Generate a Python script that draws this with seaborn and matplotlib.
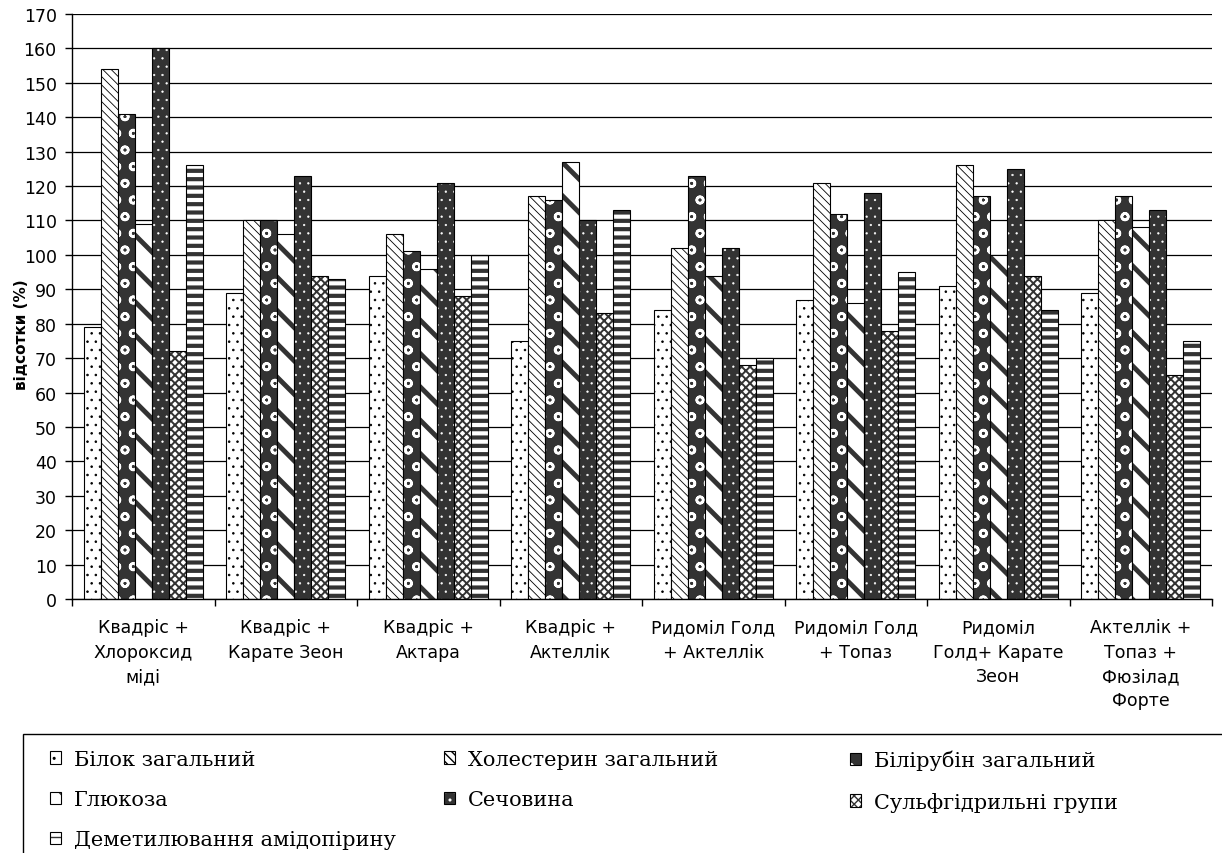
import numpy as np
import pandas as pd
import matplotlib
matplotlib.use("Agg")
import matplotlib.pyplot as plt
import seaborn as sns
from matplotlib.patches import Patch, Rectangle
from matplotlib.colors import to_rgba

# ---------------- data ----------------
groups = [
    "Квадріс +\nХлороксид\nміді",
    "Квадріс +\nКарате Зеон",
    "Квадріс +\nАктара",
    "Квадріс +\nАктеллік",
    "Ридоміл Голд\n+ Актеллік",
    "Ридоміл Голд\n+ Топаз",
    "Ридоміл\nГолд+ Карате\nЗеон",
    "Актеллік +\nТопаз +\nФюзілад\nФорте",
]
series = [
    "Білок загальний",
    "Холестерин загальний",
    "Білірубін загальний",
    "Глюкоза",
    "Сечовина",
    "Сульфгідрильні групи",
    "Деметилювання амідопірину",
]
bilok = [79, 89, 94, 75, 84, 87, 91, 89]
kholesteryn = [154, 110, 106, 117, 102, 121, 126, 110]
bilirubin = [141, 110, 101, 116, 123, 112, 117, 117]
hlukoza = [109, 106, 96, 127, 94, 86, 100, 108]
sechovyna = [160, 123, 121, 110, 102, 118, 125, 113]
sulfhidryl = [72, 94, 88, 83, 68, 78, 94, 65]
demetyl = [126, 93, 100, 113, 70, 95, 84, 75]
y_label = "відсотки (%)"
y_ticks = list(range(0, 171, 10))

values = [bilok, kholesteryn, bilirubin, hlukoza, sechovyna, sulfhidryl, demetyl]
rows = []
for s, vals in zip(series, values):
    for g, v in zip(groups, vals):
        rows.append({"group": g, "series": s, "value": v})
df = pd.DataFrame(rows)

# ---------------- style ----------------
plt.rcParams["font.family"] = ["DejaVu Sans"]
plt.rcParams["hatch.linewidth"] = 1.0

DARK = "#333333"
styles = [
    dict(face="white", hatch="..", hc="black", hlw=0.6),
    dict(face="white", hatch="\\\\\\\\", hc="black", hlw=0.6),
    dict(face=DARK, hatch="o", hc="white", hlw=1.8),
    dict(face="white", hatch="\\", hc=DARK, hlw=3.5),
    dict(face=DARK, hatch="..", hc="white", hlw=0.4),
    dict(face="white", hatch="xxxx", hc=DARK, hlw=1.4),
    dict(face="white", hatch="--", hc=DARK, hlw=3.0),
]


def style_patch(p, st):
    p.set_facecolor(st["face"])
    p.set_edgecolor("black")
    p.set_linewidth(0.8)
    p.set_hatch(st["hatch"])
    if hasattr(p, "set_hatchcolor"):
        p.set_hatchcolor(st["hc"])
    else:
        p._hatch_color = to_rgba(st["hc"])
    if hasattr(p, "set_hatch_linewidth"):
        p.set_hatch_linewidth(st["hlw"])


W, H = 1222, 854
fig = plt.figure(figsize=(W / 100, H / 100), dpi=100)
ax = fig.add_axes([72 / W, 1 - 600 / H, 1140 / W, 585 / H])

sns.barplot(
    data=df, x="group", y="value", hue="series",
    order=groups, hue_order=series,
    width=0.835, gap=0, errorbar=None, legend=False, ax=ax,
)

for st, cont in zip(styles, ax.containers):
    for bar in cont:
        style_patch(bar, st)

ax.set_ylim(0, 170)
ax.set_yticks(y_ticks)
ax.set_xlim(-0.5, len(groups) - 0.5)
ax.set_xticks(range(len(groups)))
ax.set_xticklabels(groups, fontsize=12.5, linespacing=1.45)
ax.set_xticks(np.arange(-0.5, len(groups), 1), minor=True)
ax.tick_params(axis="x", which="major", length=0, pad=14)
ax.tick_params(axis="x", which="minor", length=5, width=1, color="black")
ax.tick_params(axis="y", length=5, width=1, labelsize=12.5, pad=6, color="black")
ax.set_xlabel("")
ax.set_ylabel(y_label, fontsize=11, fontweight="bold")
ax.yaxis.set_label_coords(-0.038, 0.453)

ax.yaxis.grid(True, color="black", linewidth=0.9)
ax.set_axisbelow(True)
for side in ["top", "right"]:
    ax.spines[side].set_visible(False)
for side in ["left", "bottom"]:
    ax.spines[side].set_color("black")
    ax.spines[side].set_linewidth(1)

# ---------------- legend ----------------
handles = []
for s, st in zip(series, styles):
    h = Patch(label=s)
    style_patch(h, st)
    handles.append(h)

col_x = [50, 444, 850]
cols = [[0, 3, 6], [1, 4], [2, 5]]
for cx, idx in zip(col_x, cols):
    fig.legend(
        handles=[handles[i] for i in idx],
        labels=[series[i] for i in idx],
        loc="upper left", bbox_to_anchor=(cx / W, 1 - 751 / H),
        frameon=False, borderpad=0, borderaxespad=0,
        handlelength=0.55, handleheight=0.55, handletextpad=0.6,
        labelspacing=1.02,
        prop={"family": "DejaVu Serif", "size": 15},
    )

frame = Rectangle((23 / W, -0.2), 1.2, 0.2 + (1 - 735 / H),
                  transform=fig.transFigure, fill=False,
                  edgecolor="black", linewidth=1.0)
fig.add_artist(frame)

fig.savefig("out.png", dpi=100)
